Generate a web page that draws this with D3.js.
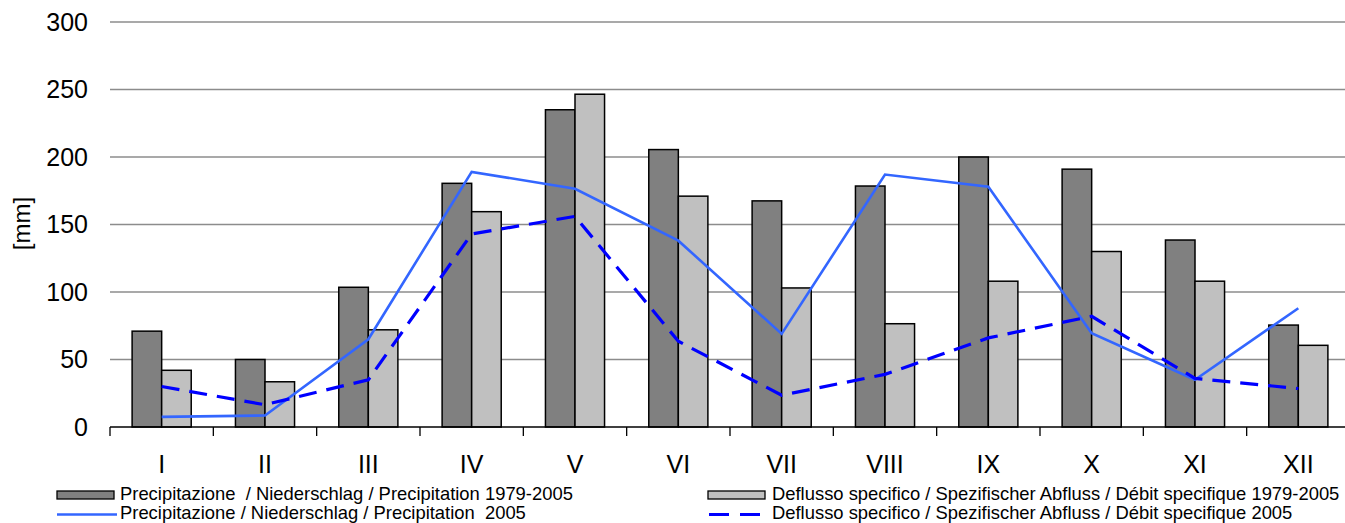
<!DOCTYPE html>
<html>
<head>
<meta charset="utf-8">
<script src="https://cdn.jsdelivr.net/npm/d3@7"></script>
<style>
  html, body { margin: 0; padding: 0; background: #fff; }
  svg { display: block; }
  text { font-family: "Liberation Sans", Arial, sans-serif; fill: #000; }
  .leg { font-family: "Liberation Sans Narrow", "Arial Narrow", "Liberation Sans", Arial, sans-serif; }
</style>
</head>
<body>
<svg id="chart" width="1345" height="523"></svg>
<script>
const months = ["I","II","III","IV","V","VI","VII","VIII","IX","X","XI","XII"];
const precipMean = [71, 50, 103.5, 180.5, 235, 205.5, 167.5, 178.5, 200, 191, 138.5, 75.5];
const dischargeMean = [42, 33.5, 72, 159.5, 246.5, 171, 103, 76.5, 108, 130, 108, 60.5];
const precip2005 = [7.5, 8.5, 65, 189, 176.5, 138, 69, 187, 178, 69.5, 35, 88];
const discharge2005 = [30, 16.5, 35, 143, 156, 63.5, 23.5, 39, 66, 82, 36, 28.5];
const yTicks = [0, 50, 100, 150, 200, 250, 300];
const legendLabels = [
  "Precipitazione  / Niederschlag / Precipitation 1979-2005",
  "Precipitazione / Niederschlag / Precipitation  2005",
  "Deflusso specifico / Spezifischer Abfluss / Débit specifique 1979-2005",
  "Deflusso specifico / Spezifischer Abfluss / Débit specifique 2005"
];

(function () {
const svg = d3.select("#chart");
const mLeft = 110, mRight = 1350, mTop = 22, mBottom = 427;

const x = d3.scaleBand().domain(months).range([mLeft, mRight]).paddingInner(0).paddingOuter(0);
const y = d3.scaleLinear().domain([0, 300]).range([mBottom, mTop]);
const bw = x.bandwidth();
const barW = bw * 0.286;

// gridlines
svg.append("g").selectAll("line").data(yTicks.filter(t => t > 0)).join("line")
  .attr("x1", mLeft).attr("x2", mRight)
  .attr("y1", d => y(d)).attr("y2", d => y(d))
  .attr("stroke", "#8c8c8c").attr("stroke-width", 1.3);

// y tick labels
svg.append("g").selectAll("text").data(yTicks).join("text")
  .attr("x", 88).attr("y", d => y(d))
  .attr("dy", "0.35em")
  .attr("text-anchor", "end")
  .style("font-size", "25px")
  .text(d => d);

// y title
svg.append("text")
  .attr("transform", `translate(30, ${y(150) - 1}) rotate(-90)`)
  .attr("text-anchor", "middle")
  .style("font-size", "24px")
  .text("[mm]");

// bars
const gBars = svg.append("g");
gBars.selectAll("rect.pm").data(months).join("rect")
  .attr("class", "pm")
  .attr("x", d => x(d) + bw / 2 - barW)
  .attr("width", barW)
  .attr("y", (d, i) => y(precipMean[i]))
  .attr("height", (d, i) => y(0) - y(precipMean[i]))
  .attr("fill", "#808080").attr("stroke", "#000").attr("stroke-width", 1.5);
gBars.selectAll("rect.dm").data(months).join("rect")
  .attr("class", "dm")
  .attr("x", d => x(d) + bw / 2)
  .attr("width", barW)
  .attr("y", (d, i) => y(dischargeMean[i]))
  .attr("height", (d, i) => y(0) - y(dischargeMean[i]))
  .attr("fill", "#c0c0c0").attr("stroke", "#000").attr("stroke-width", 1.5);

// x axis
const xAxis = svg.append("g").attr("transform", `translate(0, ${mBottom})`);
xAxis.append("line").attr("x1", mLeft).attr("x2", mRight).attr("stroke", "#000").attr("stroke-width", 1.3);
const boundaries = months.map(m => x(m)).concat([mRight]);
xAxis.selectAll("line.tk").data(boundaries).join("line")
  .attr("class", "tk")
  .attr("x1", d => d).attr("x2", d => d).attr("y1", 0).attr("y2", 9)
  .attr("stroke", "#000").attr("stroke-width", 1.3);
xAxis.selectAll("text").data(months).join("text")
  .attr("x", d => x(d) + bw / 2)
  .attr("y", 46)
  .attr("text-anchor", "middle")
  .style("font-size", "25px")
  .text(d => d);

// lines
const line = d3.line().x((d, i) => x(months[i]) + bw / 2).y(d => y(d));
svg.append("path").datum(precip2005).attr("d", line)
  .attr("fill", "none").attr("stroke", "#3366ff").attr("stroke-width", 2.6);
svg.append("path").datum(discharge2005).attr("d", line)
  .attr("fill", "none").attr("stroke", "#0000ff").attr("stroke-width", 3.2)
  .attr("stroke-dasharray", "18,10");

// legend
const lg = svg.append("g");
lg.append("rect").attr("x", 57).attr("y", 491).attr("width", 57).attr("height", 8)
  .attr("fill", "#808080").attr("stroke", "#000").attr("stroke-width", 1.3);
lg.append("line").attr("x1", 57).attr("x2", 117).attr("y1", 514.5).attr("y2", 514.5)
  .attr("stroke", "#3366ff").attr("stroke-width", 2.6);
lg.append("rect").attr("x", 708).attr("y", 491).attr("width", 57).attr("height", 8)
  .attr("fill", "#c0c0c0").attr("stroke", "#000").attr("stroke-width", 1.3);
lg.append("line").attr("x1", 709).attr("x2", 760).attr("y1", 514.5).attr("y2", 514.5)
  .attr("stroke", "#0000ff").attr("stroke-width", 3.2).attr("stroke-dasharray", "20,11");

const legPos = [[120, 500], [120, 518.5], [772, 500], [772, 518.5]];
lg.selectAll("text").data(legendLabels).join("text")
  .attr("class", "leg")
  .attr("x", (d, i) => legPos[i][0])
  .attr("y", (d, i) => legPos[i][1])
  .style("font-size", "18.4px")
  .style("white-space", "pre")
  .attr("xml:space", "preserve")
  .text(d => d);
})();
</script>
</body>
</html>
